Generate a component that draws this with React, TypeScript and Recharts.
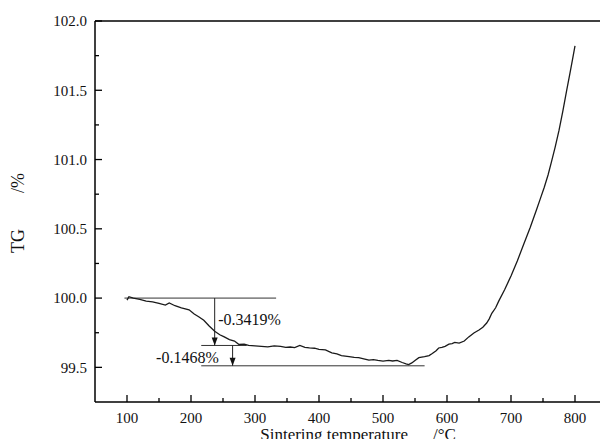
import React from "react";
import {
  LineChart,
  Line,
  XAxis,
  YAxis,
  ReferenceLine,
  ReferenceDot,
} from "recharts";

const FONT = "Liberation Serif";

// TG trace
const temps = [
  100, 103, 110, 120, 130, 140, 150, 160, 166, 175, 185, 197, 205, 212, 220,
  228, 237, 245, 252, 260, 268, 275, 283, 290, 300, 310, 320, 330, 340, 348,
  355, 362, 370, 378, 385, 393, 400, 410, 420, 428, 435, 447, 455, 462, 470,
  478, 485, 492, 500, 509, 515, 522, 530, 536, 540, 545, 550, 556, 565, 572,
  577, 583, 587, 592, 597, 603, 608, 612, 619, 627, 634, 642, 650, 656, 662,
  666, 670, 676, 681, 690, 700, 710, 720, 730, 740, 746, 752, 758, 763, 769,
  775, 781, 787, 792, 796, 800,
];
const tgValues = [
  99.985, 100.01, 100.0, 99.99, 99.978, 99.972, 99.962, 99.95, 99.965, 99.945,
  99.93, 99.915, 99.885, 99.865, 99.84, 99.8, 99.76, 99.735, 99.72, 99.7,
  99.69, 99.665, 99.668, 99.658, 99.655, 99.652, 99.648, 99.655, 99.652, 99.645,
  99.647, 99.642, 99.658, 99.645, 99.64, 99.638, 99.63, 99.626, 99.605, 99.598,
  99.585, 99.577, 99.572, 99.57, 99.562, 99.552, 99.556, 99.55, 99.545, 99.55,
  99.546, 99.55, 99.535, 99.525, 99.52, 99.532, 99.55, 99.57, 99.577, 99.585,
  99.6, 99.62, 99.64, 99.645, 99.652, 99.668, 99.672, 99.68, 99.675, 99.69,
  99.72, 99.748, 99.77, 99.79, 99.82, 99.85, 99.89, 99.93, 99.98, 100.06,
  100.16, 100.27, 100.39, 100.51, 100.64, 100.72, 100.8, 100.89, 100.98, 101.09,
  101.21, 101.35, 101.5, 101.62, 101.72, 101.82,
];

const xTicks = [100, 150, 200, 250, 300, 350, 400, 450, 500, 550, 600, 650, 700, 750, 800];
const yTicks = [99.5, 99.75, 100.0, 100.25, 100.5, 100.75, 101.0, 101.25, 101.5, 101.75, 102.0];

// mass-loss annotation (levels and their extents in degrees)
const levels = [100.0, 99.6581, 99.5113];
const levelSpans = [
  [96, 333],
  [216, 287],
  [216, 565],
];
const arrowTemps = [237, 265];
const lossLabels = ["-0.3419%", "-0.1468%"];
const lossLabelPos = [
  [244, 99.848],
  [147, 99.573],
];

const data = temps.map((t, i) => ({ t, tg: tgValues[i] }));

const serif = { fontFamily: FONT };

const XTick = (props: any) => {
  const { x, y, payload } = props;
  const major = payload.value % 100 === 0;
  return (
    <g>
      <line x1={x} x2={x} y1={y} y2={y - (major ? 7 : 4)} stroke="#000" strokeWidth={1.3} />
      {major && (
        <text x={x} y={y + 21} textAnchor="middle" fontSize={15} style={serif} fill="#111">
          {payload.value}
        </text>
      )}
    </g>
  );
};

const YTick = (props: any) => {
  const { x, y, payload } = props;
  const major = Math.abs((payload.value * 2) % 1) < 1e-6;
  return (
    <g>
      <line x1={x} x2={x + (major ? 7 : 4)} y1={y} y2={y} stroke="#000" strokeWidth={1.3} />
      {major && (
        <text x={x - 8} y={y} dy="0.35em" textAnchor="end" fontSize={15} style={serif} fill="#111">
          {payload.value.toFixed(1)}
        </text>
      )}
    </g>
  );
};

const Arrow = (p: any) => {
  const { x1, y1, x2, y2 } = p;
  const dir = y2 > y1 ? 1 : -1;
  return (
    <g>
      <line x1={x1} y1={y1} x2={x2} y2={y2} stroke="#222" strokeWidth={1} />
      <polygon
        points={`${x2},${y2} ${x2 - 3},${y2 - dir * 8} ${x2 + 3},${y2 - dir * 8}`}
        fill="#111"
      />
    </g>
  );
};

const LossLabel = (txt: string) => (props: any) => {
  const vb = props.viewBox || {};
  return (
    <text x={vb.x} y={vb.y + (vb.height || 0) / 2} dy="0.35em" fontSize={16} style={serif} fill="#111">
      {txt}
    </text>
  );
};

export default function App() {
  return (
    <div
      style={{
        position: "absolute",
        left: 0,
        top: 0,
        width: 600,
        height: 439,
        overflow: "hidden",
        background: "#fff",
      }}
    >
      <LineChart
        width={610}
        height={439}
        data={data}
        margin={{ top: 21, right: 3, bottom: 0, left: 0 }}
      >
        <XAxis
          dataKey="t"
          type="number"
          domain={[50, 850]}
          ticks={xTicks}
          interval={0}
          height={37}
          tickSize={0}
          tickMargin={0}
          tickLine={false}
          axisLine={{ stroke: "#000", strokeWidth: 1.5 }}
          tick={<XTick />}
          label={{
            content: () => (
              <g fontSize={17} fill="#111" style={serif}>
                <text x={408} y={440} textAnchor="end">
                  Sintering temperature
                </text>
                <text x={433} y={440}>/°C</text>
              </g>
            ),
          }}
        />
        <YAxis
          type="number"
          domain={[99.25, 102.0]}
          ticks={yTicks}
          interval={0}
          width={95}
          tickSize={0}
          tickMargin={0}
          tickLine={false}
          axisLine={{ stroke: "#000", strokeWidth: 1.5 }}
          tick={<YTick />}
          label={{
            content: () => (
              <g fontSize={18} fill="#111" style={serif}>
                <text x={24} y={253} transform="rotate(-90 24 253)">
                  TG
                </text>
                <text x={24} y={193} transform="rotate(-90 24 193)">
                  /%
                </text>
              </g>
            ),
          }}
        />
        <ReferenceLine y={102} stroke="#000" strokeWidth={1.5} />
        {levels.map((lv, i) => (
          <ReferenceLine
            key={"lv" + i}
            segment={[
              { x: levelSpans[i][0], y: lv },
              { x: levelSpans[i][1], y: lv },
            ]}
            stroke="#333"
            strokeWidth={1}
          />
        ))}
        {arrowTemps.map((t, i) => (
          <ReferenceLine
            key={"ar" + i}
            segment={[
              { x: t, y: levels[i] },
              { x: t, y: levels[i + 1] },
            ]}
            shape={<Arrow />}
          />
        ))}
        {lossLabels.map((txt, i) => (
          <ReferenceDot
            key={"lb" + i}
            x={lossLabelPos[i][0]}
            y={lossLabelPos[i][1]}
            r={1}
            fillOpacity={0}
            strokeOpacity={0}
            label={{ content: LossLabel(txt) }}
          />
        ))}
        <Line
          dataKey="tg"
          type="linear"
          stroke="#1a1a1a"
          strokeWidth={1.3}
          dot={false}
          isAnimationActive={false}
        />
      </LineChart>
    </div>
  );
}
